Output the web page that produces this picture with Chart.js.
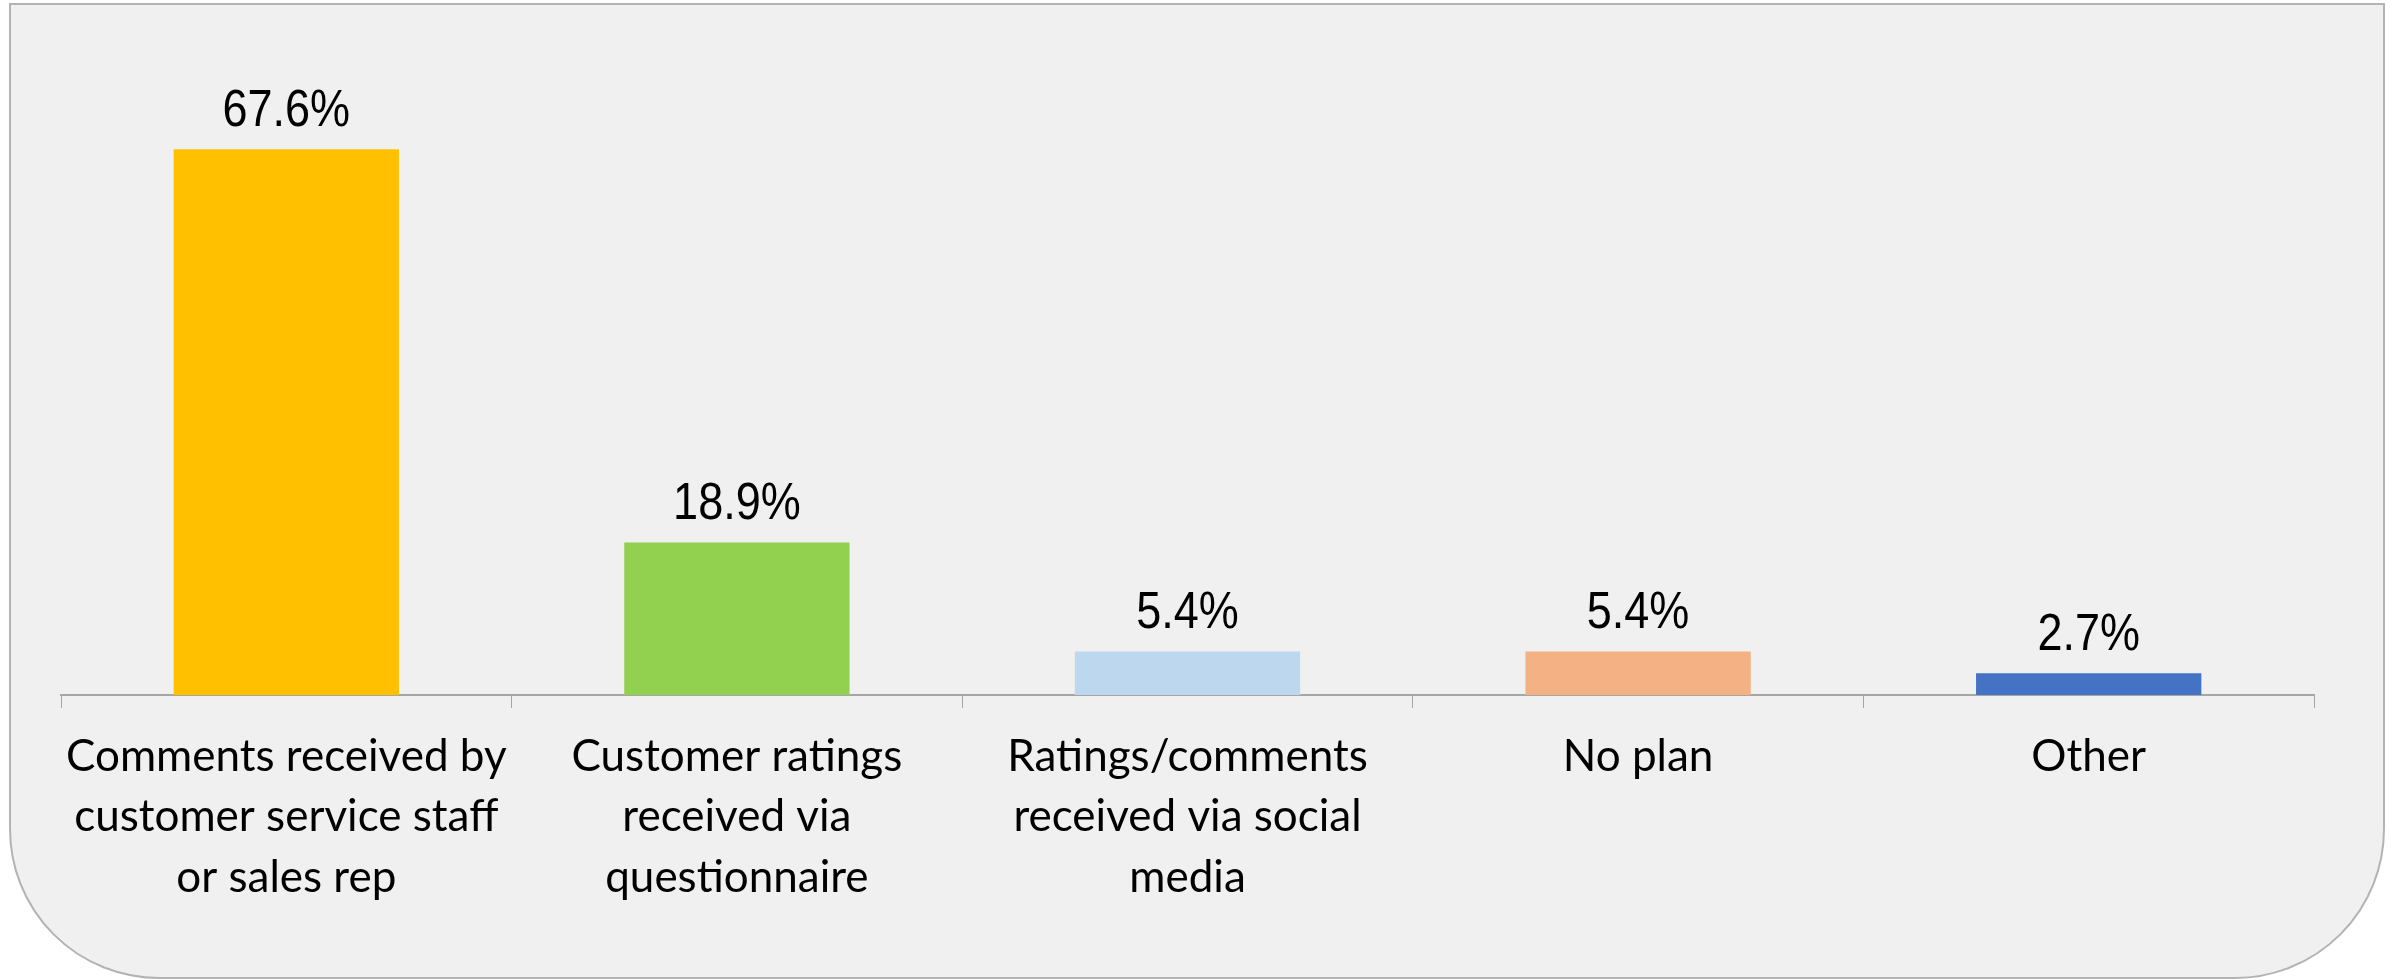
<!DOCTYPE html>
<html>
<head>
<meta charset="utf-8">
<script src="https://cdn.jsdelivr.net/npm/chart.js@4.4.1/dist/chart.umd.min.js"></script>
<style>
  html, body { margin: 0; padding: 0; background: #ffffff; }
  #wrap { position: relative; width: 2395px; height: 980px; overflow: hidden; }
  #frame {
    position: absolute; left: 9px; top: 3px; width: 2372px; height: 972px;
    background: #f0f0f0; border: 2px solid #b3b3b3;
    border-radius: 0 0 150px 150px;
  }
  #planChart { position: absolute; left: 0; top: 0; }
</style>
</head>
<body>
<div id="wrap">
  <div id="frame"></div>
  <canvas id="planChart" width="2395" height="980"></canvas>
</div>
<script>
const categories = [
    ['Comments received by', 'customer service staff', 'or sales rep'],
    ['Customer ratings', 'received via', 'questionnaire'],
    ['Ratings/comments', 'received via social', 'media'],
    'No plan',
    'Other'
];
const shares = [67.6, 18.9, 5.4, 5.4, 2.7];
const barColors = ['#FFC000', '#92D050', '#BDD7EE', '#F4B183', '#4472C4'];

// percentage above each bar
const valueLabels = {
    id: 'valueLabels',
    afterDatasetsDraw(chart) {
        const ctx = chart.ctx;
        const meta = chart.getDatasetMeta(0);
        ctx.save();
        ctx.fillStyle = '#000';
        ctx.font = '45px "Liberation Sans", Arial, sans-serif';
        ctx.textAlign = 'center';
        ctx.textBaseline = 'alphabetic';
        meta.data.forEach((bar, i) => {
            ctx.save();
            ctx.translate(bar.x, bar.y - 23);
            ctx.scale(1, 1.15);
            ctx.fillText(shares[i].toFixed(1) + '%', 0, 0);
            ctx.restore();
        });
        ctx.restore();
    }
};

document.addEventListener('DOMContentLoaded', () => {
    const ctx = document.getElementById('planChart').getContext('2d');
    new Chart(ctx, {
        type: 'bar',
        data: {
            labels: categories,
            datasets: [{
                data: shares,
                backgroundColor: barColors,
                categoryPercentage: 1,
                barPercentage: 0.5
            }]
        },
        options: {
            responsive: false,
            animation: false,
            layout: { padding: { left: 61, right: 81, top: 49, bottom: 0 } },
            plugins: {
                legend: { display: false },
                tooltip: { enabled: false }
            },
            scales: {
                x: {
                    afterFit(scale) { scale.height = 285; },
                    border: { color: '#a6a6a6', width: 2 },
                    grid: {
                        drawOnChartArea: false,
                        color: '#a6a6a6',
                        lineWidth: 1,
                        tickLength: 13
                    },
                    ticks: {
                        color: '#000',
                        maxRotation: 0,
                        autoSkip: false,
                        padding: 18,
                        font: { family: 'Lato, "Open Sans", sans-serif', size: 44, lineHeight: 1.38 }
                    }
                },
                y: {
                    display: false,
                    min: 0,
                    max: 80
                }
            }
        },
        plugins: [valueLabels]
    });
});
</script>
</body>
</html>
